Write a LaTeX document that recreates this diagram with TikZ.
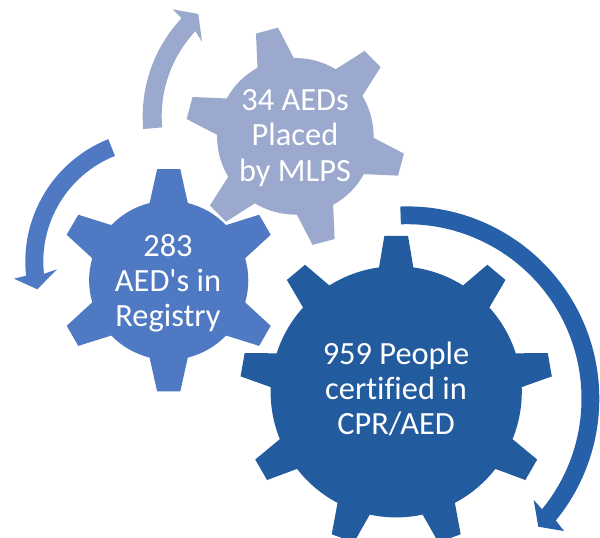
\documentclass[tikz,border=0pt]{standalone}
\usepackage{fontspec}
\newfontfamily\labelfont[Ligatures={NoCommon}]{Carlito}
\definecolor{gearlight}{HTML}{9AA9CD}
\definecolor{gearmid}{HTML}{4F7AC3}
\definecolor{geardark}{HTML}{235B9F}
\definecolor{arrowdark}{HTML}{2660A8}
% #1 cx, #2 cy, #3 teeth, #4 root r, #5 tip R, #6 base half-angle, #7 tip half-angle, #8 first tooth angle, #9 colour
\newcommand{\cogwheel}[9]{%
  \pgfmathsetmacro{\stepang}{360/#3}%
  \pgfmathtruncatemacro{\lastt}{#3-1}%
  \begin{scope}[shift={(#1,#2)}]
  \fill[#9] (#8-#6:#4)
    \foreach \k in {0,...,\lastt}{%
      \pgfextra{\pgfmathsetmacro{\mid}{#8+\k*\stepang}}%
      -- (\mid-#7:#5)
      -- (\mid+#7:#5)
      -- (\mid+#6:#4)
      arc[start angle=\mid+#6,end angle=\mid+\stepang-#6,radius=#4]
    } -- cycle;
  \end{scope}%
}
% #1 cx,#2 cy,#3 outer,#4 inner,#5 start,#6 neck,#7 outer barb,#8 tip,#9 inner barb
\newcommand{\bandarrow}[9]{%
  ([shift={(#5:#3)}]#1,#2) arc[start angle=#5,end angle=#6,radius=#3]
  -- (#7) -- (#8) -- (#9)
  -- ([shift={(#6:#4)}]#1,#2) arc[start angle=#6,end angle=#5,radius=#4] -- cycle%
}
\tikzset{
  gearlabel/.style={text=white,align=center,font=\labelfont\fontsize{24.3}{26.4}\selectfont,inner sep=0pt}
}
\begin{document}
\begin{tikzpicture}[x=0.75pt,y=-0.75pt]
\useasboundingbox (0,0) rectangle (600,537);
\fill[white] (0,0) rectangle (600,537);
% arrows
\fill[gearlight] \bandarrow{286}{116.3}{143.3}{124.3}{174.9}{223.2}{172.7,9.3}{198.3,14}{202,41.7};
\fill[gearmid] \bandarrow{157.3}{261.7}{132}{114}{248.2}{173.9}{14,278.7}{37.3,289.3}{57,269.3};
\fill[arrowdark] \bandarrow{407}{398.7}{192.3}{174.5}{-92}{39.3}{564,531}{538.3,526.7}{533.7,500};
% gears
\cogwheel{168.7}{280.3}{6}{79.6}{111.7}{13.9}{5.95}{-90}{gearmid}
\cogwheel{295.3}{136.3}{6}{78.3}{110}{13.9}{5.95}{-105}{gearlight}
\cogwheel{396.2}{391.8}{9}{125.6}{156.4}{7.85}{4.34}{-90}{geardark}
% labels
\node[gearlabel] (mid) at (168,283) {283\\AED's in\\Registry};
\node[gearlabel] (light) at (295,138) {34 AEDs\\Placed\\by MLPS};
\node[gearlabel] (dark) at (396,389) {959 People\\certified in\\CPR/AED};
\end{tikzpicture}
\end{document}
